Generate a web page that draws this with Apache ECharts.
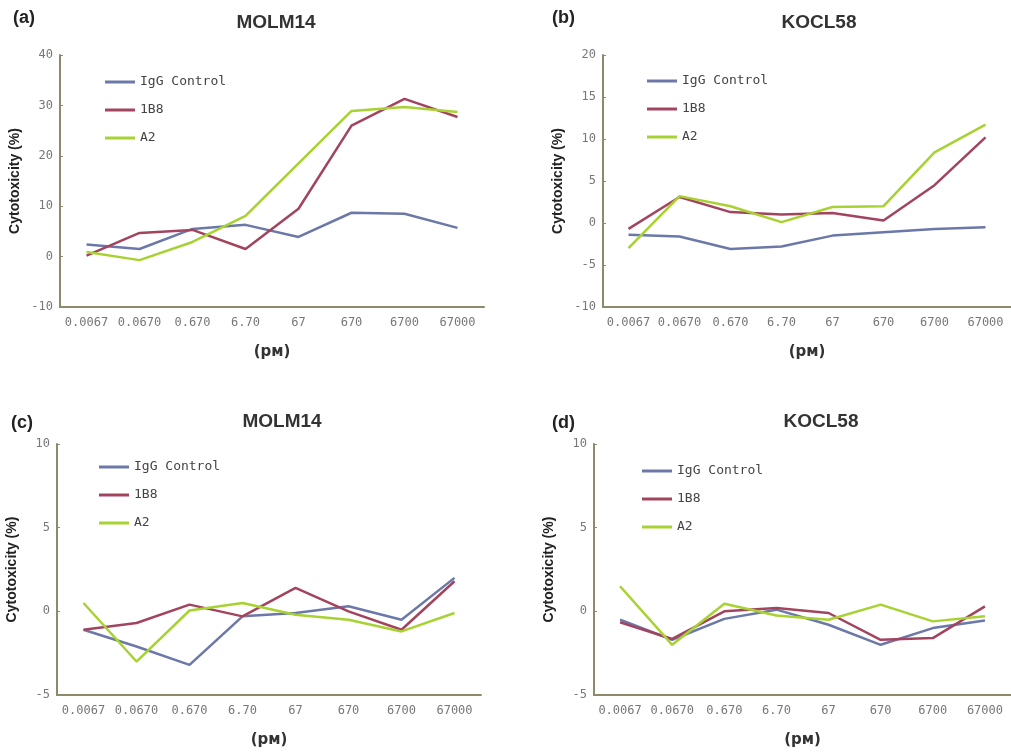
<!DOCTYPE html>
<html>
<head>
<meta charset="utf-8">
<script src="https://cdn.jsdelivr.net/npm/echarts@6/dist/echarts.min.js"></script>
<style>
html,body{margin:0;padding:0;background:#fff;}
#chart{width:1011px;height:754px;}
</style>
</head>
<body>
<div id="chart"></div>
<script>
// ---- data ----
var categories = ['0.0067', '0.0670', '0.670', '6.70', '67', '670', '6700', '67000'];
var seriesNames = ['IgG Control', '1B8', 'A2'];

var a_igg = [2.4, 1.5, 5.5, 6.3, 3.9, 8.7, 8.5, 5.7];
var a_1b8 = [0.2, 4.7, 5.3, 1.5, 9.5, 26.0, 31.3, 27.7];
var a_a2  = [0.9, -0.7, 2.9, 8.1, 18.5, 28.9, 29.7, 28.7];

var b_igg = [-1.4, -1.6, -3.1, -2.8, -1.5, -1.1, -0.7, -0.5];
var b_1b8 = [-0.7, 3.1, 1.3, 1.0, 1.2, 0.3, 4.5, 10.2];
var b_a2  = [-3.0, 3.2, 2.0, 0.1, 1.9, 2.0, 8.4, 11.7];

var c_igg = [-1.1, -2.1, -3.2, -0.3, -0.1, 0.3, -0.5, 2.0];
var c_1b8 = [-1.1, -0.7, 0.4, -0.3, 1.4, 0.0, -1.1, 1.8];
var c_a2  = [0.5, -3.0, 0.05, 0.5, -0.2, -0.5, -1.2, -0.1];

var d_igg = [-0.5, -1.7, -0.45, 0.1, -0.8, -2.0, -1.0, -0.55];
var d_1b8 = [-0.65, -1.65, 0.0, 0.2, -0.1, -1.7, -1.6, 0.3];
var d_a2  = [1.5, -2.0, 0.45, -0.25, -0.5, 0.4, -0.6, -0.3];

var panelLetters = ['(a)', '(b)', '(c)', '(d)'];
var panelTitles = ['MOLM14', 'KOCL58', 'MOLM14', 'KOCL58'];
var yRanges = [[-10, 40, 10], [-10, 20, 5], [-5, 10, 5], [-5, 10, 5]];
var panelData = [
  [a_igg, a_1b8, a_a2],
  [b_igg, b_1b8, b_a2],
  [c_igg, c_1b8, c_a2],
  [d_igg, d_1b8, d_a2]
];
var yName = 'Cytotoxicity (%)';
var xName = '(p\u1D0D)';

// ---- layout / style ----
var colors = ['#6b78a8', '#a3445f', '#a8d232'];
var grids = [
  {left: 60, top: 55, width: 424, height: 252},
  {left: 603, top: 55, width: 413, height: 252},
  {left: 57, top: 444, width: 424, height: 251},
  {left: 594, top: 444, width: 419, height: 251}
];
var letterPos = [[8, 4], [547, 4], [6, 409], [547, 409]];
var titleCenter = [[271, 8], [814, 8], [277, 407], [816, 407]];
var legendPos = [[100, 70], [642, 69], [94, 455], [637, 459]];
var axisColor = '#8c8a6a';
var monoFont = 'DejaVu Sans Mono';

var option = {
  backgroundColor: '#ffffff',
  animation: false,
  title: [],
  legend: [],
  grid: [],
  xAxis: [],
  yAxis: [],
  series: []
};

for (var i = 0; i < 4; i++) {
  option.title.push({
    text: panelLetters[i], left: letterPos[i][0], top: letterPos[i][1],
    textStyle: {fontFamily: 'Liberation Sans', fontSize: 18, fontWeight: 'bold', color: '#222'}
  });
  option.title.push({
    text: panelTitles[i], left: titleCenter[i][0], top: titleCenter[i][1], textAlign: 'center',
    textStyle: {fontFamily: 'Liberation Sans', fontSize: 19, fontWeight: 'bold', color: '#333'}
  });
  option.grid.push(Object.assign({containLabel: false}, grids[i]));
  option.legend.push({
    orient: 'vertical', left: legendPos[i][0], top: legendPos[i][1],
    icon: 'rect', itemWidth: 30, itemHeight: 3, itemGap: 14,
    data: seriesNames,
    selectedMode: false,
    textStyle: {fontFamily: monoFont, fontSize: 13, lineHeight: 14, color: '#444'}
  });
  option.xAxis.push({
    type: 'category', gridIndex: i, data: categories, boundaryGap: true,
    name: xName, nameLocation: 'middle', nameGap: 38,
    nameTextStyle: {fontFamily: 'DejaVu Sans', fontSize: 15, fontWeight: 'bold', color: '#333'},
    axisLine: {onZero: false, lineStyle: {color: axisColor, width: 2}},
    axisTick: {show: false},
    axisLabel: {fontFamily: monoFont, fontSize: 12, color: '#777', margin: 10, interval: 0},
    splitLine: {show: false}
  });
  option.yAxis.push({
    type: 'value', gridIndex: i, min: yRanges[i][0], max: yRanges[i][1], interval: yRanges[i][2],
    name: yName, nameLocation: 'middle', nameGap: 38,
    nameTextStyle: {fontFamily: 'Liberation Sans', fontSize: 14, fontWeight: 'bold', color: '#222'},
    axisLine: {show: true, lineStyle: {color: axisColor, width: 2}},
    axisTick: {show: true, inside: true, length: 3, lineStyle: {color: axisColor}},
    axisLabel: {fontFamily: monoFont, fontSize: 12, color: '#777', margin: 7},
    splitLine: {show: false}
  });
  for (var s = 0; s < 3; s++) {
    option.series.push({
      type: 'line', name: seriesNames[s], xAxisIndex: i, yAxisIndex: i,
      data: panelData[i][s], symbol: 'none',
      lineStyle: {color: colors[s], width: 2.5},
      itemStyle: {color: colors[s]}
    });
  }
}

var chart = echarts.init(document.getElementById('chart'), null, {renderer: 'canvas'});
chart.setOption(option);
</script>
</body>
</html>
